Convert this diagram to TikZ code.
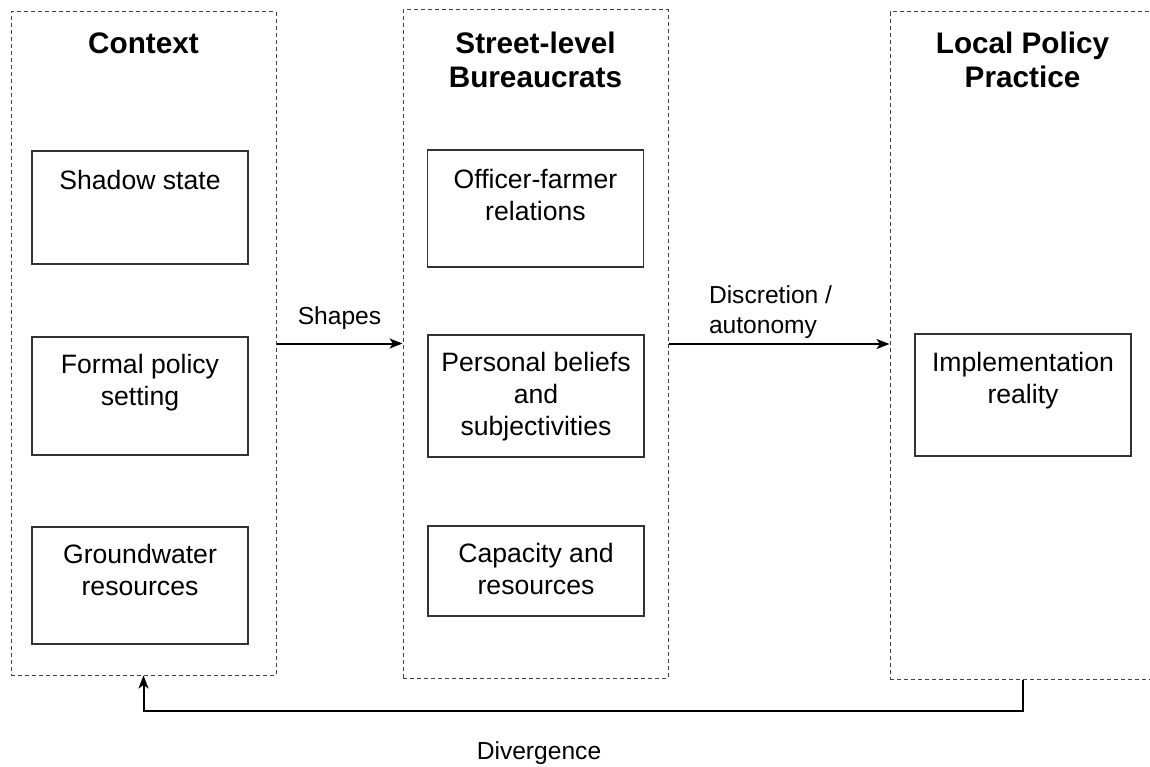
\documentclass[tikz,border=0pt]{standalone}
\usepackage{fontspec}
\setmainfont{Liberation Sans}
\usetikzlibrary{arrows.meta}
\tikzset{
  container/.style={draw=black!75, line width=1pt, dash pattern=on 4pt off 3pt, inner sep=0pt, minimum width=265pt},
  innerbox/.style={draw=black!80, line width=1.2pt, inner sep=0pt, minimum width=216pt},
  boxtext/.style={anchor=north, inner sep=0pt, align=center, font=\fontsize{26.6}{32}\selectfont},
  title/.style={anchor=north, inner sep=0pt, align=center, font=\fontsize{29.7}{34}\selectfont\bfseries},
  edgelabel/.style={inner sep=0pt, align=left, font=\fontsize{24.6}{29.5}\selectfont},
  arr/.style={line width=2pt, -{Stealth[length=13pt, width=10pt, inset=3.5pt]}}
}
\begin{document}
\begin{tikzpicture}[x=1pt, y=-1pt]
\useasboundingbox (0,0) rectangle (1150,767);
% containers
\node[container, minimum height=663pt] (ctx) at (143.5,343.5) {};
\node[container, minimum height=668pt] (sl) at (535.5,344) {};
\node[container, minimum height=667pt] (lpp) at (1022.5,345.5) {};
% titles
\node[title] (ctxT) at ([yshift=-21pt]ctx.north) {Context};
\node[title] (slT) at ([yshift=-22pt]sl.north) {Street-level\\Bureaucrats};
\node[title] (lppT) at ([yshift=-20pt]lpp.north) {Local Policy\\Practice};
% inner boxes
\node[innerbox, minimum height=113pt] (ss) at (140,207.5) {};
\node[innerbox, minimum height=118pt] (fp) at (140,396) {};
\node[innerbox, minimum height=117pt] (gw) at (140,585.5) {};
\node[innerbox, minimum height=117pt] (of) at (535.5,208.5) {};
\node[innerbox, minimum height=122pt] (pb) at (536,396) {};
\node[innerbox, minimum height=90pt] (cr) at (536,571) {};
\node[innerbox, minimum height=122pt] (ir) at (1023,395) {};
% box texts
\node[boxtext] (ssT) at ([yshift=-20pt]ss.north) {Shadow state};
\node[boxtext] (fpT) at ([yshift=-18pt]fp.north) {Formal policy\\setting};
\node[boxtext] (gwT) at ([yshift=-18pt]gw.north) {Groundwater\\resources};
\node[boxtext] (ofT) at ([yshift=-20pt]of.north) {Officer-farmer\\relations};
\node[boxtext] (pbT) at ([yshift=-18pt]pb.north) {Personal beliefs\\and\\subjectivities};
\node[boxtext] (crT) at ([yshift=-18pt]cr.north) {Capacity and\\resources};
\node[boxtext] (irT) at ([yshift=-19pt]ir.north) {Implementation\\reality};
% connectors
\draw[arr] (ctx.east) -- (ctx.east -| sl.west)
  node[edgelabel, midway, above=13pt] (shL) {Shapes};
\draw[arr] (sl.east) -- (sl.east -| lpp.west)
  node[edgelabel, midway, anchor=north west, xshift=-71pt, yshift=59pt] (dsL) {Discretion /\\autonomy};
\draw[arr] (lpp.south) -- ++(0,31) coordinate (fbc) -| (ctx.south);
\node[edgelabel] (dvL) at (539,753) {Divergence};
\end{tikzpicture}
\end{document}
